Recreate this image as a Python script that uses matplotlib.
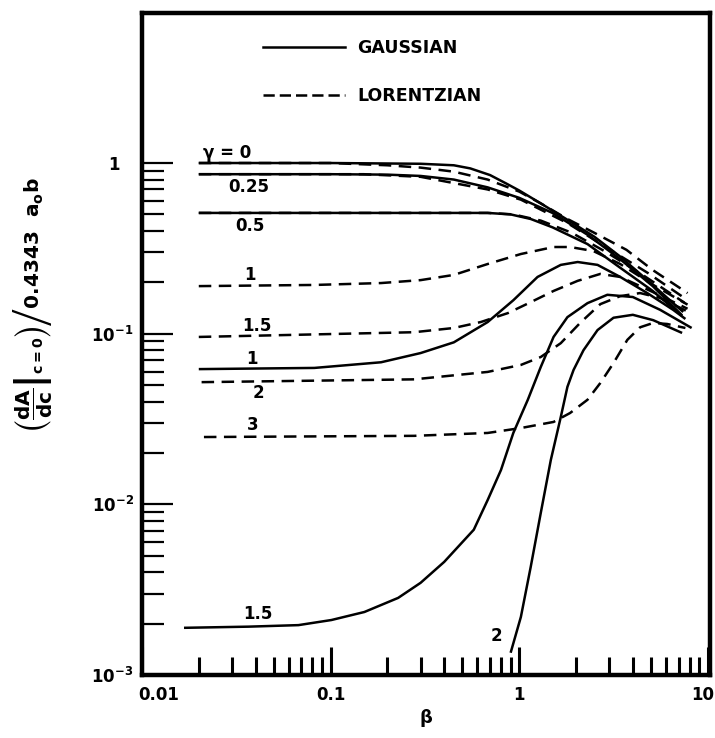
import matplotlib
matplotlib.use("Agg")
import matplotlib.pyplot as plt
from matplotlib.lines import Line2D
from matplotlib.ticker import FixedLocator, LogLocator, NullFormatter
from matplotlib.transforms import ScaledTranslation

plt.rcParams['font.family'] = ['DejaVu Sans']
plt.rcParams['font.weight'] = 'bold'
plt.rcParams['mathtext.fontset'] = 'dejavusans'
plt.rcParams['mathtext.default'] = 'bf'

# gaussian curves (solid)
b_g0 = [0.02, 0.1, 0.3, 0.45, 0.55, 0.7, 0.85, 1.0, 1.3, 1.8, 2.5, 3.4, 4.8, 6.5, 7.4]
g0 = [1.0, 1.0, 0.99, 0.97, 0.93, 0.85, 0.76, 0.69, 0.58, 0.465, 0.37, 0.285, 0.205, 0.152, 0.134]
b_g025 = [0.02, 0.1, 0.2, 0.3, 0.45, 0.68, 1.0, 1.5, 2.3, 3.4, 5.1, 7.3]
g025 = [0.86, 0.86, 0.855, 0.84, 0.80, 0.72, 0.625, 0.51, 0.38, 0.275, 0.19, 0.128]
b_g05 = [0.02, 0.3, 0.68, 0.9, 1.15, 1.5, 2.3, 3.4, 5.1, 7.3]
g05 = [0.51, 0.51, 0.51, 0.50, 0.47, 0.42, 0.335, 0.245, 0.178, 0.127]
b_g1 = [0.02, 0.082, 0.185, 0.3, 0.45, 0.68, 0.93, 1.25, 1.66, 2.04, 2.6, 3.43, 4.77, 6.54, 7.6]
g1 = [0.062, 0.063, 0.068, 0.077, 0.089, 0.117, 0.157, 0.215, 0.253, 0.263, 0.253, 0.215, 0.173, 0.138, 0.122]
b_g15 = [0.0167, 0.0367, 0.0675, 0.101, 0.151, 0.228, 0.30, 0.40, 0.574, 0.68, 0.80, 0.93,
         1.11, 1.30, 1.52, 1.80, 2.30, 2.93, 4.0, 5.58, 8.2]
g15 = [0.00189, 0.00192, 0.00196, 0.0021, 0.00234, 0.00283, 0.00347, 0.0046, 0.0071, 0.0106,
       0.0159, 0.0262, 0.041, 0.0638, 0.0957, 0.125, 0.151, 0.169, 0.164, 0.138, 0.108]
b_g2 = [0.90, 1.02, 1.15, 1.30, 1.47, 1.66, 1.80, 1.94, 2.19, 2.60, 3.16, 4.0, 5.13, 7.3]
g2 = [0.00135, 0.00219, 0.0043, 0.0089, 0.0182, 0.0325, 0.0488, 0.0613, 0.080, 0.105,
      0.124, 0.129, 0.120, 0.101]

# lorentzian curves (dashed)
b_l0 = [0.02, 0.1, 0.2, 0.3, 0.45, 0.68, 1.0, 1.3, 1.8, 2.5, 3.7, 5.1, 7.8]
l0 = [1.0, 1.0, 0.97, 0.94, 0.89, 0.80, 0.68, 0.58, 0.47, 0.39, 0.31, 0.236, 0.173]
b_l025 = [0.02, 0.15, 0.3, 0.68, 1.02, 1.8, 2.9, 4.8, 7.5]
l025 = [0.86, 0.86, 0.83, 0.70, 0.61, 0.445, 0.32, 0.227, 0.162]
b_l05 = [0.02, 0.68, 0.93, 1.3, 1.9, 2.9, 4.4, 7.5]
l05 = [0.51, 0.51, 0.50, 0.46, 0.39, 0.30, 0.225, 0.152]
b_l1 = [0.02, 0.082, 0.185, 0.3, 0.45, 0.68, 1.02, 1.52, 1.86, 2.47, 3.43, 5.13, 7.8]
l1 = [0.19, 0.193, 0.198, 0.206, 0.221, 0.256, 0.293, 0.322, 0.322, 0.305, 0.256, 0.193, 0.148]
b_l15 = [0.02, 0.277, 0.45, 0.625, 0.87, 1.15, 1.52, 2.04, 2.69, 3.43, 5.13, 7.8]
l15 = [0.0957, 0.102, 0.108, 0.117, 0.132, 0.153, 0.178, 0.204, 0.224, 0.215, 0.175, 0.14]
b_l2 = [0.0207, 0.277, 0.68, 1.02, 1.30, 1.66, 2.10, 2.69, 3.43, 4.37, 5.58, 7.8]
l2 = [0.052, 0.054, 0.0597, 0.0656, 0.073, 0.088, 0.1155, 0.149, 0.166, 0.173, 0.162, 0.135]
b_l3 = [0.0213, 0.277, 0.68, 1.02, 1.52, 1.86, 2.30, 2.69, 3.16, 3.74, 4.37, 5.13, 6.08, 7.6]
l3 = [0.0248, 0.0252, 0.0262, 0.028, 0.0304, 0.0343, 0.041, 0.0514, 0.0673, 0.092, 0.109,
      0.1156, 0.114, 0.108]

# curve labels: text, beta, value
lab_txt = ['γ = 0', '0.25', '0.5', '1', '1.5', '1', '2', '3', '1.5', '2']
lab_b = [0.0281, 0.0367, 0.0372, 0.0372, 0.0405, 0.0381, 0.0414, 0.0386, 0.041, 0.76]
lab_y = [1.14, 0.72, 0.428, 0.221, 0.111, 0.071, 0.045, 0.0292, 0.00228, 0.00169]

xticks = [0.01, 0.1, 1, 10]
xticklabels = ['0.01', '0.1', '1', '10']
yticks = [1e-3, 1e-2, 1e-1, 1]
yticklabels = [r'$10^{-3}$', r'$10^{-2}$', r'$10^{-1}$', '1']

fig = plt.figure(figsize=(7.15, 7.38), dpi=100)
ax = fig.add_axes([142/715, 1-675/738, 568/715, 662/738])
ax.set_xscale('log')
ax.set_yscale('log')

lw = 1.8
dash = (5, 3)
for b, v in [(b_g0, g0), (b_g025, g025), (b_g05, g05), (b_g1, g1), (b_g15, g15), (b_g2, g2)]:
    ax.plot(b, v, color='black', lw=lw, solid_capstyle='butt')
for b, v in [(b_l0, l0), (b_l025, l025), (b_l05, l05), (b_l1, l1), (b_l15, l15), (b_l2, l2), (b_l3, l3)]:
    ax.plot(b, v, color='black', lw=lw, dashes=dash)

for t, b, v in zip(lab_txt, lab_b, lab_y):
    ax.text(b, v, t, ha='center', va='center', fontsize=12, fontweight='bold')

ax.set_xlim(0.01025, 10.26)
ax.set_ylim(1e-3, 7.57)

ax.set_xticks(xticks)
ax.set_xticklabels(xticklabels)
ax.xaxis.set_minor_locator(LogLocator(base=10, subs=range(2, 10)))
ax.xaxis.set_minor_formatter(NullFormatter())
ax.set_yticks(yticks)
ax.set_yticklabels(yticklabels)
ax.yaxis.set_minor_locator(FixedLocator([k * 10.0**e for e in (-3, -2, -1) for k in range(2, 10)]))
ax.yaxis.set_minor_formatter(NullFormatter())

ax.tick_params(axis='x', which='major', direction='in', length=20, width=2.2, labelsize=12, pad=8)
ax.tick_params(axis='x', which='minor', direction='in', length=13, width=2.2)
ax.tick_params(axis='y', which='major', direction='in', length=22, width=1.6, labelsize=12, pad=6)
ax.tick_params(axis='y', which='minor', direction='in', length=16, width=1.6)
for s in ax.spines.values():
    s.set_linewidth(3.2)

# end labels nudged to sit like the original
xl = ax.get_xticklabels()
xl[0].set_ha('left')
xl[0].set_transform(xl[0].get_transform() + ScaledTranslation(-4/100, 0, fig.dpi_scale_trans))
xl[-1].set_ha('right')
xl[-1].set_transform(xl[-1].get_transform() + ScaledTranslation(6/100, 0, fig.dpi_scale_trans))
yl = ax.get_yticklabels()
yl[-1].set_transform(yl[-1].get_transform() + ScaledTranslation(-14/100, 0, fig.dpi_scale_trans))

ax.set_xlabel(r'$\beta$', fontsize=13, labelpad=2)
ax.set_ylabel(r'$\left.\left(\left.\dfrac{dA}{dc}\right|_{c=0}\right)\right/0.4343\ \ a_o b$', fontsize=14.5)
ax.yaxis.set_label_coords(-0.155, 0.56)

handles = [Line2D([], [], color='black', lw=lw),
           Line2D([], [], color='black', lw=lw, dashes=(4.5, 2))]
ax.legend(handles, ['GAUSSIAN', 'LORENTZIAN'], loc='upper left', bbox_to_anchor=(0.213, 0.96),
          frameon=False, prop={'size': 12.5, 'weight': 'bold'}, handlelength=4.7,
          handletextpad=0.75, labelspacing=1.7, borderpad=0, borderaxespad=0)

fig.savefig('out.png', dpi=100)
